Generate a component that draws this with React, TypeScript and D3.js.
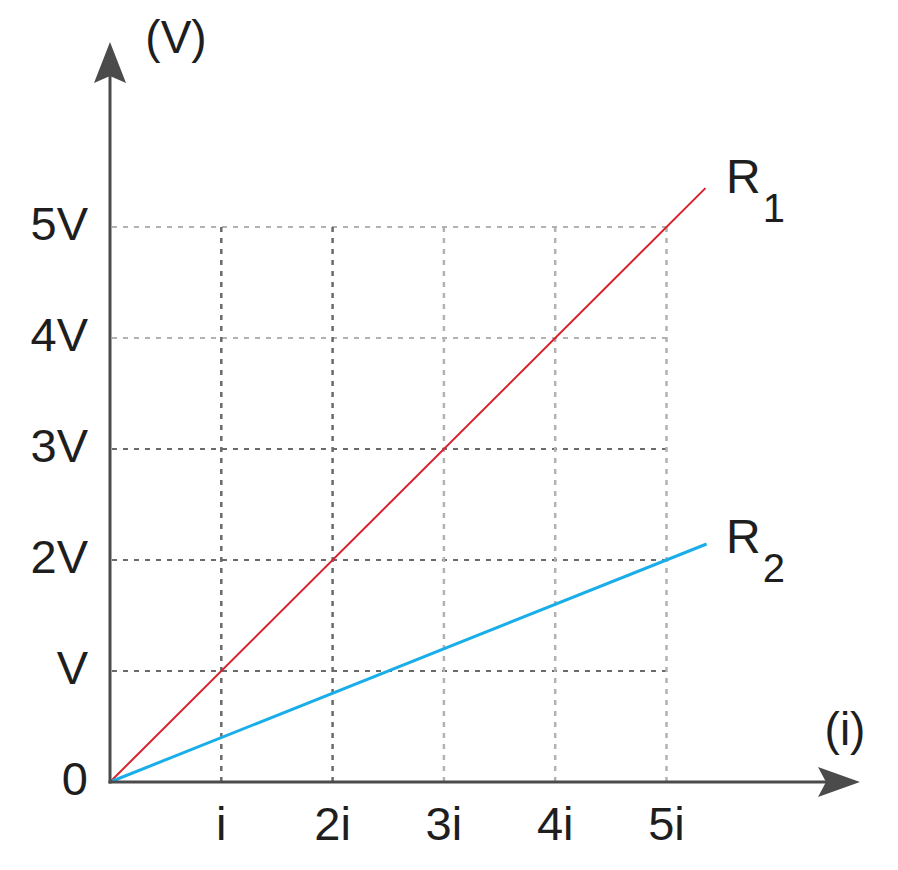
import React from "react";
import * as d3 from "d3";

const xTickValues = [1, 2, 3, 4, 5];
const xTickLabels = ["i", "2i", "3i", "4i", "5i"];
const yTickValues = [0, 1, 2, 3, 4, 5];
const yTickLabels = ["0", "V", "2V", "3V", "4V", "5V"];
const seriesNames = ["R1", "R2"];
const r1Points: [number, number][] = [[0, 0], [5.35, 5.35]];
const r2Points: [number, number][] = [[0, 0], [5.36, 2.144]];

const W = 898;
const H = 870;
const OX = 110;
const OY = 782;
const FONT = "'Liberation Sans', Arial, Helvetica, sans-serif";

export default function App() {
  const x = d3.scaleLinear().domain([0, 5]).range([OX, 666.5]);
  const y = d3.scaleLinear().domain([0, 5]).range([OY, 227]);
  const line = d3
    .line<[number, number]>()
    .x((d) => x(d[0]))
    .y((d) => y(d[1]));

  const yTop = 42;
  const xEnd = 860;
  const axisColor = "#4b4b4b";
  const textColor = "#1e1e1e";
  const dark = "#6a6a6a";
  const light = "#b2b2b2";

  return (
    <svg
      width={W}
      height={H}
      style={{ display: "block", position: "absolute", left: 0, top: 0 }}
      fontFamily={FONT}
    >
      <rect width={W} height={H} fill="#fff" />
      {/* horizontal grid */}
      {yTickValues.slice(1).map((v) => (
        <line
          key={"h" + v}
          x1={OX + 2}
          x2={x(5)}
          y1={y(v)}
          y2={y(v)}
          stroke={v >= 4 ? light : dark}
          strokeWidth={2}
          strokeDasharray="5 6"
        />
      ))}
      {/* vertical grid */}
      {xTickValues.map((v) => (
        <line
          key={"v" + v}
          x1={x(v)}
          x2={x(v)}
          y1={OY}
          y2={y(5)}
          stroke={v <= 2 ? dark : light}
          strokeWidth={2.5}
          strokeDasharray="5 6"
        />
      ))}
      {/* series lines */}
      <path d={line(r1Points) || ""} fill="none" stroke="#d9202b" strokeWidth={2} />
      <path d={line(r2Points) || ""} fill="none" stroke="#1aaee8" strokeWidth={3} />
      {/* axes */}
      <line x1={OX} x2={OX} y1={OY + 1.5} y2={yTop + 20} stroke={axisColor} strokeWidth={3} />
      <line x1={OX - 1.5} x2={xEnd - 20} y1={OY} y2={OY} stroke={axisColor} strokeWidth={3} />
      <path
        d={`M${OX},${yTop} L${OX + 16},${yTop + 41} L${OX},${yTop + 34} L${OX - 16},${yTop + 41} Z`}
        fill={axisColor}
      />
      <path
        d={`M${xEnd},${OY} L${xEnd - 42},${OY + 15} L${xEnd - 34},${OY} L${xEnd - 42},${OY - 15} Z`}
        fill={axisColor}
      />
      {/* y tick labels */}
      {yTickValues.map((v, i) => (
        <text
          key={"yl" + v}
          x={88}
          y={y(v) - 4}
          textAnchor="end"
          dominantBaseline="central"
          fontSize={47}
          fill={textColor}
        >
          {yTickLabels[i]}
        </text>
      ))}
      {/* x tick labels */}
      {xTickValues.map((v, i) => (
        <text
          key={"xl" + v}
          x={x(v)}
          y={840}
          textAnchor="middle"
          fontSize={47}
          fill={textColor}
        >
          {xTickLabels[i]}
        </text>
      ))}
      {/* axis titles */}
      <text x={176} y={53} textAnchor="middle" fontSize={46} fill={textColor}>
        (V)
      </text>
      <text x={845} y={745} textAnchor="middle" fontSize={46} fill={textColor}>
        (i)
      </text>
      {/* series labels */}
      <text x={726} y={193} fontSize={48} fill={textColor}>
        {seriesNames[0].charAt(0)}
        <tspan fontSize={40} dy={29} dx={2}>
          {seriesNames[0].slice(1)}
        </tspan>
      </text>
      <text x={726} y={553} fontSize={48} fill={textColor}>
        {seriesNames[1].charAt(0)}
        <tspan fontSize={40} dy={29} dx={2}>
          {seriesNames[1].slice(1)}
        </tspan>
      </text>
    </svg>
  );
}
